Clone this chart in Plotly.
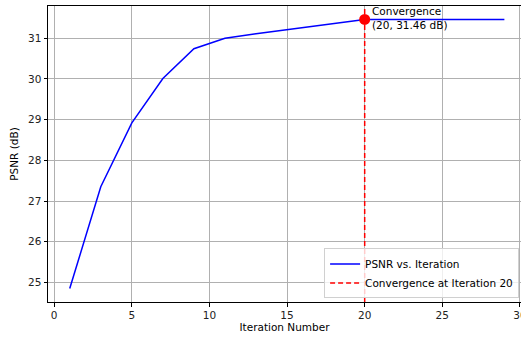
import plotly.graph_objects as go

iterations = [1, 3, 5, 7, 9, 11, 13, 15, 17, 19, 20, 21, 23, 25, 27, 29]
psnr = [24.85, 27.35, 28.92, 30.01, 30.74, 31.00, 31.11, 31.21, 31.30, 31.41, 31.46,
        31.46, 31.46, 31.46, 31.46, 31.46]
conv_iter = 20
conv_psnr = 31.46
x_ticks = [0, 5, 10, 15, 20, 25, 30]
y_ticks = [25, 26, 27, 28, 29, 30, 31]

FONT = "DejaVu Sans"
fig = go.Figure()
fig.add_trace(go.Scatter(x=iterations, y=psnr, mode="lines", name="PSNR vs. Iteration",
                         line=dict(color="#0000ff", width=1.5)))
fig.add_trace(go.Scatter(x=[conv_iter], y=[conv_psnr], mode="markers", showlegend=False,
                         marker=dict(color="#ff0000", size=11, line=dict(width=0)),
                         hoverinfo="skip"))
fig.add_shape(type="line", xref="x", yref="paper", x0=conv_iter, x1=conv_iter, y0=0, y1=1,
              line=dict(color="#ff0000", width=1.5, dash="5px,3px"),
              showlegend=True, name=f"Convergence at Iteration {conv_iter}", layer="above")
fig.add_annotation(x=conv_iter, y=conv_psnr, xref="x", yref="y",
                   text=f"Convergence<br>({conv_iter}, {conv_psnr:.2f} dB)",
                   showarrow=False, xanchor="left", yanchor="bottom", align="left",
                   xshift=5, yshift=-14, font=dict(family=FONT, size=10.5, color="#000"))

axis_common = dict(showgrid=True, gridcolor="#b0b0b0", gridwidth=1, zeroline=False,
                   showline=True, linecolor="#000", linewidth=1, ticks="outside",
                   ticklen=3.5, tickcolor="#000", automargin=False,
                   tickfont=dict(family=FONT, size=10.5, color="#222"))
fig.update_xaxes(range=[-0.4, 30.07], tickvals=x_ticks, mirror=True, ticklabeloverflow="allow",
                 title=dict(text="Iteration Number", font=dict(family=FONT, size=10.5, color="#000"),
                            standoff=3), **axis_common)
fig.update_yaxes(range=[24.52, 31.79], tickvals=y_ticks,
                 title=dict(text="PSNR (dB)", font=dict(family=FONT, size=10.5, color="#000"),
                            standoff=7), **axis_common)
fig.update_layout(width=521, height=341, margin=dict(l=48, r=0, t=6, b=39),
                  plot_bgcolor="white", paper_bgcolor="white",
                  font=dict(family=FONT, size=10.5, color="#000"),
                  legend=dict(x=0.996, y=0.012, xanchor="right", yanchor="bottom",
                              bgcolor="rgba(255,255,255,0.8)", bordercolor="#d0d0d0",
                              borderwidth=1, itemwidth=30, tracegroupgap=0,
                              font=dict(family=FONT, size=10.5, color="#000")))
fig.write_html("out.html")
